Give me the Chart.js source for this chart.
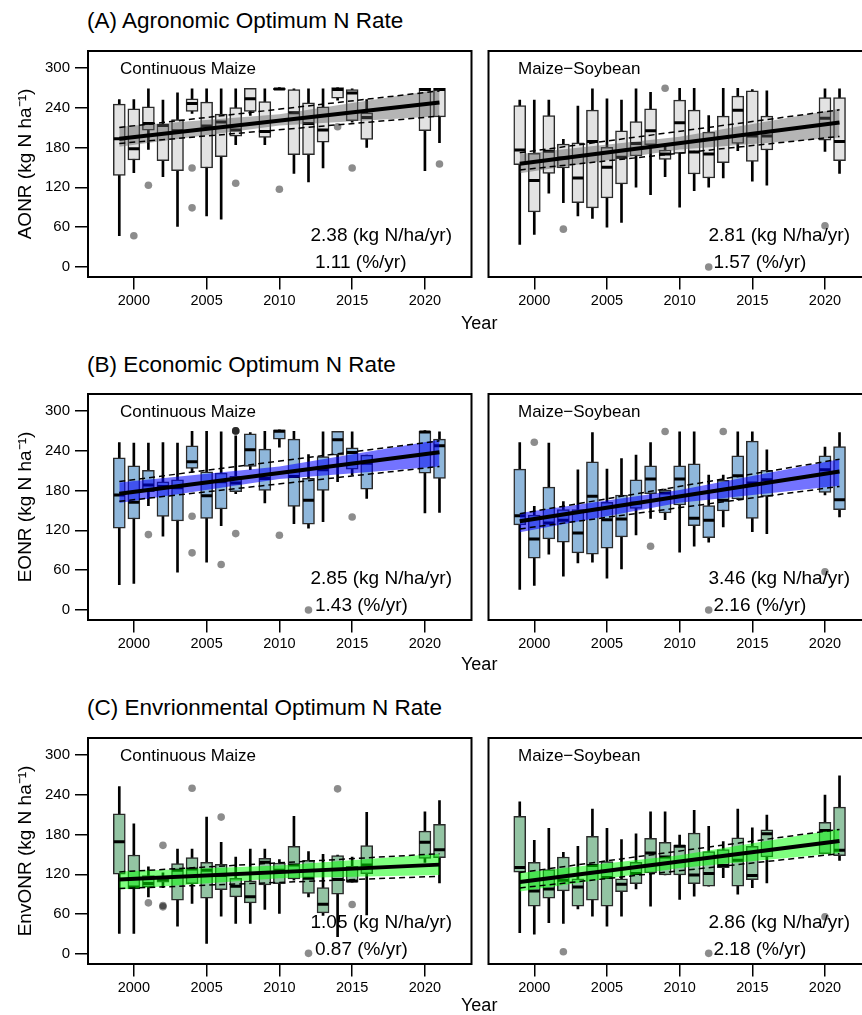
<!DOCTYPE html>
<html>
<head>
<meta charset="utf-8">
<script src="https://cdn.jsdelivr.net/npm/chart.js@4.4.1/dist/chart.umd.min.js"></script>
<style>
html, body { margin:0; padding:0; overflow:hidden; background:#fff; }
body { width:862px; height:1015px; position:relative; font-family:"Liberation Sans", Arial, sans-serif; color:#000; }
canvas { position:absolute; }
.t { position:absolute; white-space:nowrap; line-height:1; }
</style>
</head>
<body>
<canvas id="aCm" width="480" height="281" style="left:0px;top:36px"></canvas>
<canvas id="aMs" width="400" height="281" style="left:480px;top:36px"></canvas>
<canvas id="bCm" width="480" height="281" style="left:0px;top:379px"></canvas>
<canvas id="bMs" width="400" height="281" style="left:480px;top:379px"></canvas>
<canvas id="cCm" width="480" height="281" style="left:0px;top:723px"></canvas>
<canvas id="cMs" width="400" height="281" style="left:480px;top:723px"></canvas>
<script>
const FONT = '"Liberation Sans", Arial, sans-serif';

const YEARS = [1999, 2000, 2001, 2002, 2003, 2004, 2005, 2006, 2007, 2008, 2009, 2010, 2011, 2012, 2013, 2014, 2015, 2016, 2020, 2021];
const X_TICKS = [2000, 2005, 2010, 2015, 2020];
const Y_TICKS = [0, 60, 120, 180, 240, 300];
const FIT_YEARS = [1999, 2021];
const BAND_YEARS = [1999, 2010, 2021];

// (A) AONR - continuous maize
const aCmLow  = [47, 142, 177, 136, 61, 231, 77, 72, 184, 228, 184, 267, 141, 128, 149, 251, 218, 180, 145, 187];
const aCmQ1   = [138, 161, 206, 160, 145, 234, 149, 166, 197, 234, 195, 267, 169, 169, 188, 254, 220, 192, 205, 226];
const aCmMed  = [193, 178, 216, 213, 205, 246, 212, 218, 206, 253, 204, 268, 232, 216, 206, 267, 262, 225, 267, 267];
const aCmQ3   = [245, 238, 241, 215, 222, 253, 248, 230, 240, 269, 249, 269, 267, 247, 241, 270, 267, 232, 269, 269];
const aCmHigh = [252, 252, 268, 251, 262, 268, 268, 268, 268, 269, 268, 270, 268, 268, 268, 270, 268, 252, 269, 269];
const aCmOutYear = [2000, 2001, 2004, 2004, 2007, 2010, 2014, 2015, 2021];
const aCmOutVal  = [47, 123, 149, 89, 126, 117, 211, 149, 155];
const aCmFit = [193, 247.5];
const aCmBandHi = [211, 230, 267];
const aCmBandLo = [181, 213, 227];
const aCmDashHi = [210, 265];
const aCmDashLo = [186, 227];

// (A) AONR - maize-soybean
const aMsLow  = [34, 49, 111, 97, 77, 73, 60, 67, 120, 109, 136, 90, 115, 120, 134, 175, 129, 123, 174, 141];
const aMsQ1   = [154, 83, 141, 149, 97, 89, 104, 125, 167, 184, 162, 171, 140, 134, 157, 186, 159, 176, 191, 160];
const aMsMed  = [176, 130, 174, 164, 134, 189, 150, 165, 186, 205, 170, 217, 173, 170, 195, 236, 197, 197, 224, 189];
const aMsQ3   = [243, 171, 228, 185, 187, 236, 180, 205, 219, 238, 176, 251, 236, 203, 227, 257, 265, 227, 255, 255];
const aMsHigh = [251, 251, 251, 192, 242, 268, 253, 251, 268, 263, 182, 269, 269, 228, 269, 269, 267, 265, 268, 268];
const aMsOutYear = [2002, 2009, 2012, 2020];
const aMsOutVal  = [57, 269, 0, 62];
const aMsFit = [155.5, 217.5];
const aMsBandHi = [170, 196, 238];
const aMsBandLo = [141, 177, 195];
const aMsDashHi = [172, 236.5];
const aMsDashLo = [146, 196.5];

// (B) EONR - continuous maize
const bCmLow  = [38, 40, 157, 111, 57, 207, 72, 127, 175, 211, 161, 245, 130, 123, 133, 193, 203, 168, 146, 147];
const bCmQ1   = [123, 137, 178, 141, 134, 213, 138, 152, 178, 216, 180, 257, 156, 129, 180, 233, 212, 182, 206, 198];
const bCmMed  = [173, 162, 188, 186, 184, 223, 172, 193, 191, 241, 198, 269, 201, 165, 211, 256, 237, 221, 268, 247];
const bCmQ3   = [229, 217, 210, 193, 196, 247, 208, 206, 201, 265, 242, 271, 257, 198, 231, 269, 244, 233, 269, 257];
const bCmHigh = [252, 251, 251, 252, 251, 269, 269, 268, 262, 267, 269, 271, 269, 234, 268, 269, 268, 233, 270, 268];
const bCmOutYear = [2001, 2004, 2004, 2006, 2007, 2007, 2007, 2007, 2010, 2012, 2015];
const bCmOutVal  = [113.5, 141, 86, 68.5, 269.5, 269.5, 269.5, 115, 112.5, 0, 140];
const bCmFit = [175, 237.5];
const bCmBandHi = [192, 216, 256];
const bCmBandLo = [161, 197, 216];
const bCmDashHi = [193.5, 254.5];
const bCmDashLo = [163.5, 216];

// (B) EONR - maize-soybean
const bMsLow  = [31, 37, 84, 51, 71, 72, 48, 62, 113, 138, 136, 87, 96, 102, 125, 166, 118, 115, 173, 140];
const bMsQ1   = [128, 78, 107, 102, 86, 84, 93, 110, 153, 175, 146, 158, 127, 109, 149, 167, 138, 171, 177, 151];
const bMsMed  = [142, 107, 131, 135, 116, 171, 136, 137, 161, 197, 176, 197, 138, 135, 165, 202, 191, 196, 211, 166];
const bMsQ3   = [212, 143, 185, 151, 151, 223, 162, 173, 196, 217, 181, 217, 220, 157, 195, 232, 254, 210, 232, 246];
const bMsHigh = [252, 156, 251, 163, 211, 267, 212, 228, 233, 252, 182, 268, 268, 203, 203, 268, 268, 241, 245, 267];
const bMsOutYear = [2000, 2008, 2009, 2012, 2013, 2020];
const bMsOutVal  = [252.5, 96, 268.5, 0, 268.5, 57.5];
const bMsFit = [133.5, 208.5];
const bMsBandHi = [146, 180.5, 227];
const bMsBandLo = [117, 161.5, 187];
const bMsDashHi = [145, 227];
const bMsDashLo = [122, 186];

// (C) EnvONR - continuous maize
const cCmLow  = [31, 31, 86, 100, 42, 76, 16, 57, 46, 46, 67, 61, 111, 86, 58, 26, 108, 59, 138, 107];
const cCmQ1   = [120, 98, 101, 108, 81, 106, 84, 97, 86, 77, 104, 106, 113, 91, 62, 90, 108, 121, 144, 145];
const cCmMed  = [169, 101, 106, 112, 126, 128, 126, 118, 102, 86, 138, 126, 134, 114, 75, 112, 110, 134, 168, 157];
const cCmQ3   = [211, 149, 118, 117, 136, 145, 138, 135, 114, 110, 144, 137, 162, 141, 100, 148, 132, 163, 185, 195];
const cCmHigh = [252, 196, 131, 122, 158, 158, 206, 168, 146, 158, 158, 142, 207, 154, 150, 149, 146, 213, 214, 231];
const cCmOutYear = [2001, 2002, 2002, 2002, 2004, 2006, 2012, 2014, 2015];
const cCmOutVal  = [77, 163.5, 73, 71, 249.5, 206, 1, 248.5, 74.5];
const cCmFit = [112, 134.5];
const cCmBandHi = [124, 133, 151];
const cCmBandLo = [97, 114, 119];
const cCmDashHi = [123.5, 151];
const cCmDashLo = [98.5, 117];

// (C) EnvONR - maize-soybean
const cMsLow  = [32, 30, 47, 46, 68, 57, 42, 57, 98, 72, 119, 82, 87, 102, 115, 90, 100, 107, 151, 141];
const cMsQ1   = [123, 72, 84, 95, 72, 81, 72, 94, 106, 122, 119, 119, 106, 102, 130, 102, 112, 146, 151, 148];
const cMsMed  = [130, 95, 98, 111, 101, 133, 115, 105, 121, 152, 146, 162, 119, 121, 133, 141, 118, 181, 186, 156];
const cMsQ3   = [207, 138, 127, 146, 113, 177, 139, 113, 138, 174, 168, 164, 182, 154, 157, 175, 162, 187, 198, 221];
const cMsHigh = [229, 171, 189, 153, 162, 218, 189, 172, 181, 214, 214, 179, 216, 192, 169, 218, 190, 209, 239, 268];
const cMsOutYear = [2002, 2012, 2020];
const cMsOutVal  = [3.5, 1, 56];
const cMsFit = [108.5, 170];
const cMsBandHi = [122, 148.5, 188];
const cMsBandLo = [94, 129.5, 152];
const cMsDashHi = [122.5, 187.5];
const cMsDashLo = [99.5, 151];

const GREY = { fill: '#e3e3e3', band: 'rgba(90,90,90,0.45)' };
const BLUE = { fill: '#8fb7db', band: 'rgba(0,0,255,0.55)' };
const GREEN = { fill: '#93c4a3', band: 'rgba(0,255,0,0.5)' };

// box around the plotting region, like R's box()
const framePlugin = {
  id: 'frame',
  afterDatasetsDraw(chart) {
    const a = chart.chartArea, c = chart.ctx;
    c.save();
    c.strokeStyle = '#000';
    c.lineWidth = 2;
    c.strokeRect(a.left, a.top, a.right - a.left, a.bottom - a.top);
    c.restore();
  }
};

function pts(xs, ys) { return xs.map((x, i) => ({ x: x, y: ys[i] })); }
function spans(lo, hi) { return YEARS.map((x, i) => ({ x: x, y: [lo[i], hi[i]] })); }

function boxPanel(id, d, look, yTitle) {
  const left = !!yTitle;
  new Chart(document.getElementById(id), {
    type: 'scatter',
    data: {
      datasets: [
        { type: 'bar', data: spans(d.low, d.high), backgroundColor: '#000', barThickness: 2, grouped: false, order: 10 },
        { type: 'bar', data: spans(d.q1, d.q3), backgroundColor: look.fill, borderColor: '#2a2a2a', borderWidth: 1.5,
          borderSkipped: false, barThickness: 12, grouped: false, order: 9 },
        { data: pts(YEARS, d.med), pointStyle: 'line', pointRadius: 5.5, pointBorderWidth: 3, pointBorderColor: '#000', order: 8 },
        { type: 'line', data: pts(BAND_YEARS, d.bandHi), borderWidth: 0, pointRadius: 0, fill: '+1', backgroundColor: look.band, order: 7 },
        { type: 'line', data: pts(BAND_YEARS, d.bandLo), borderWidth: 0, pointRadius: 0, fill: false, order: 7 },
        { type: 'line', data: pts(FIT_YEARS, d.dashHi), borderColor: '#000', borderWidth: 1.5, borderDash: [6, 4], pointRadius: 0, fill: false, order: 6 },
        { type: 'line', data: pts(FIT_YEARS, d.dashLo), borderColor: '#000', borderWidth: 1.5, borderDash: [6, 4], pointRadius: 0, fill: false, order: 6 },
        { type: 'line', data: pts(FIT_YEARS, d.fit), borderColor: '#000', borderWidth: 4, pointRadius: 0, fill: false, order: 5 },
        { data: pts(d.outYear, d.outVal), pointRadius: 3.8, pointBackgroundColor: 'rgba(0,0,0,0.45)', pointBorderWidth: 0, order: 4 }
      ]
    },
    options: {
      responsive: false,
      devicePixelRatio: 1,
      animation: false,
      events: [],
      layout: { padding: left ? { left: 0, right: 5, top: 15, bottom: 0 } : { left: 6, right: 7, top: 15, bottom: 0 } },
      plugins: { legend: { display: false }, tooltip: { enabled: false } },
      scales: {
        x: {
          type: 'linear', min: 1996.85, max: 2023.2, offset: false,
          afterBuildTicks: s => { s.ticks = X_TICKS.map(v => ({ value: v })); },
          afterFit: s => { s.height = 40; },
          grid: { drawOnChartArea: false, drawTicks: true, tickLength: 12.5, color: '#000', lineWidth: 1.5, offset: false },
          border: { display: false },
          ticks: { color: '#000', font: { family: FONT, size: 14.5 }, padding: 2.5, maxRotation: 0, autoSkip: false, callback: v => String(v) }
        },
        y: {
          type: 'linear', min: -15, max: 325, display: left,
          afterBuildTicks: s => { s.ticks = Y_TICKS.map(v => ({ value: v })); },
          afterFit: s => { s.width = left ? 88 : 0; },
          grid: { drawOnChartArea: false, drawTicks: true, tickLength: 13, color: '#000', lineWidth: 1.5 },
          border: { display: false },
          ticks: { color: '#000', font: { family: FONT, size: 15 }, padding: 5, callback: v => String(v) },
          title: { display: left, text: yTitle || '', color: '#000', font: { family: FONT, size: 19 }, padding: { top: 14, bottom: 0 } }
        }
      }
    },
    plugins: [framePlugin]
  });
}

function label(text, x, baseline, size) {
  const el = document.createElement('div');
  el.className = 't';
  el.textContent = text;
  el.style.left = x + 'px';
  el.style.top = (baseline - 0.8465 * size) + 'px';
  el.style.fontSize = size + 'px';
  document.body.appendChild(el);
}

boxPanel('aCm', { low: aCmLow, q1: aCmQ1, med: aCmMed, q3: aCmQ3, high: aCmHigh, outYear: aCmOutYear, outVal: aCmOutVal,
  fit: aCmFit, bandHi: aCmBandHi, bandLo: aCmBandLo, dashHi: aCmDashHi, dashLo: aCmDashLo }, GREY, 'AONR (kg N ha\u207B\u00B9)');
boxPanel('aMs', { low: aMsLow, q1: aMsQ1, med: aMsMed, q3: aMsQ3, high: aMsHigh, outYear: aMsOutYear, outVal: aMsOutVal,
  fit: aMsFit, bandHi: aMsBandHi, bandLo: aMsBandLo, dashHi: aMsDashHi, dashLo: aMsDashLo }, GREY, null);
boxPanel('bCm', { low: bCmLow, q1: bCmQ1, med: bCmMed, q3: bCmQ3, high: bCmHigh, outYear: bCmOutYear, outVal: bCmOutVal,
  fit: bCmFit, bandHi: bCmBandHi, bandLo: bCmBandLo, dashHi: bCmDashHi, dashLo: bCmDashLo }, BLUE, 'EONR (kg N ha\u207B\u00B9)');
boxPanel('bMs', { low: bMsLow, q1: bMsQ1, med: bMsMed, q3: bMsQ3, high: bMsHigh, outYear: bMsOutYear, outVal: bMsOutVal,
  fit: bMsFit, bandHi: bMsBandHi, bandLo: bMsBandLo, dashHi: bMsDashHi, dashLo: bMsDashLo }, BLUE, null);
boxPanel('cCm', { low: cCmLow, q1: cCmQ1, med: cCmMed, q3: cCmQ3, high: cCmHigh, outYear: cCmOutYear, outVal: cCmOutVal,
  fit: cCmFit, bandHi: cCmBandHi, bandLo: cCmBandLo, dashHi: cCmDashHi, dashLo: cCmDashLo }, GREEN, 'EnvONR (kg N ha\u207B\u00B9)');
boxPanel('cMs', { low: cMsLow, q1: cMsQ1, med: cMsMed, q3: cMsQ3, high: cMsHigh, outYear: cMsOutYear, outVal: cMsOutVal,
  fit: cMsFit, bandHi: cMsBandHi, bandLo: cMsBandLo, dashHi: cMsDashHi, dashLo: cMsDashLo }, GREEN, null);

// titles, panel names, slopes and the shared x label
const rowTop = [51, 394, 738];
const rowTitles = ['(A) Agronomic Optimum N Rate', '(B) Economic Optimum N Rate', '(C) Envrionmental Optimum N Rate'];
const titleBase = [29.3, 372.7, 716];
const yearBase = [329.5, 670.5, 1011];
const slopeKg = [['2.38', '2.81'], ['2.85', '3.46'], ['1.05', '2.86']];
const slopePct = [['1.11', '1.57'], ['1.43', '2.16'], ['0.87', '2.18']];

rowTop.forEach((top, r) => {
  label(rowTitles[r], 87, titleBase[r], 22.5);
  label('Continuous Maize', 120, top + 23, 17);
  label('Maize\u2212Soybean', 518, top + 23, 17);
  label(slopeKg[r][0] + ' (kg N/ha/yr)', 310.5, top + 189.7, 19);
  label(slopePct[r][0] + ' (%/yr)', 315, top + 217.3, 19);
  label(slopeKg[r][1] + ' (kg N/ha/yr)', 708.5, top + 189.7, 19);
  label(slopePct[r][1] + ' (%/yr)', 713.5, top + 217.3, 19);
  label('Year', 461, yearBase[r], 18);
});
</script>
</body>
</html>
